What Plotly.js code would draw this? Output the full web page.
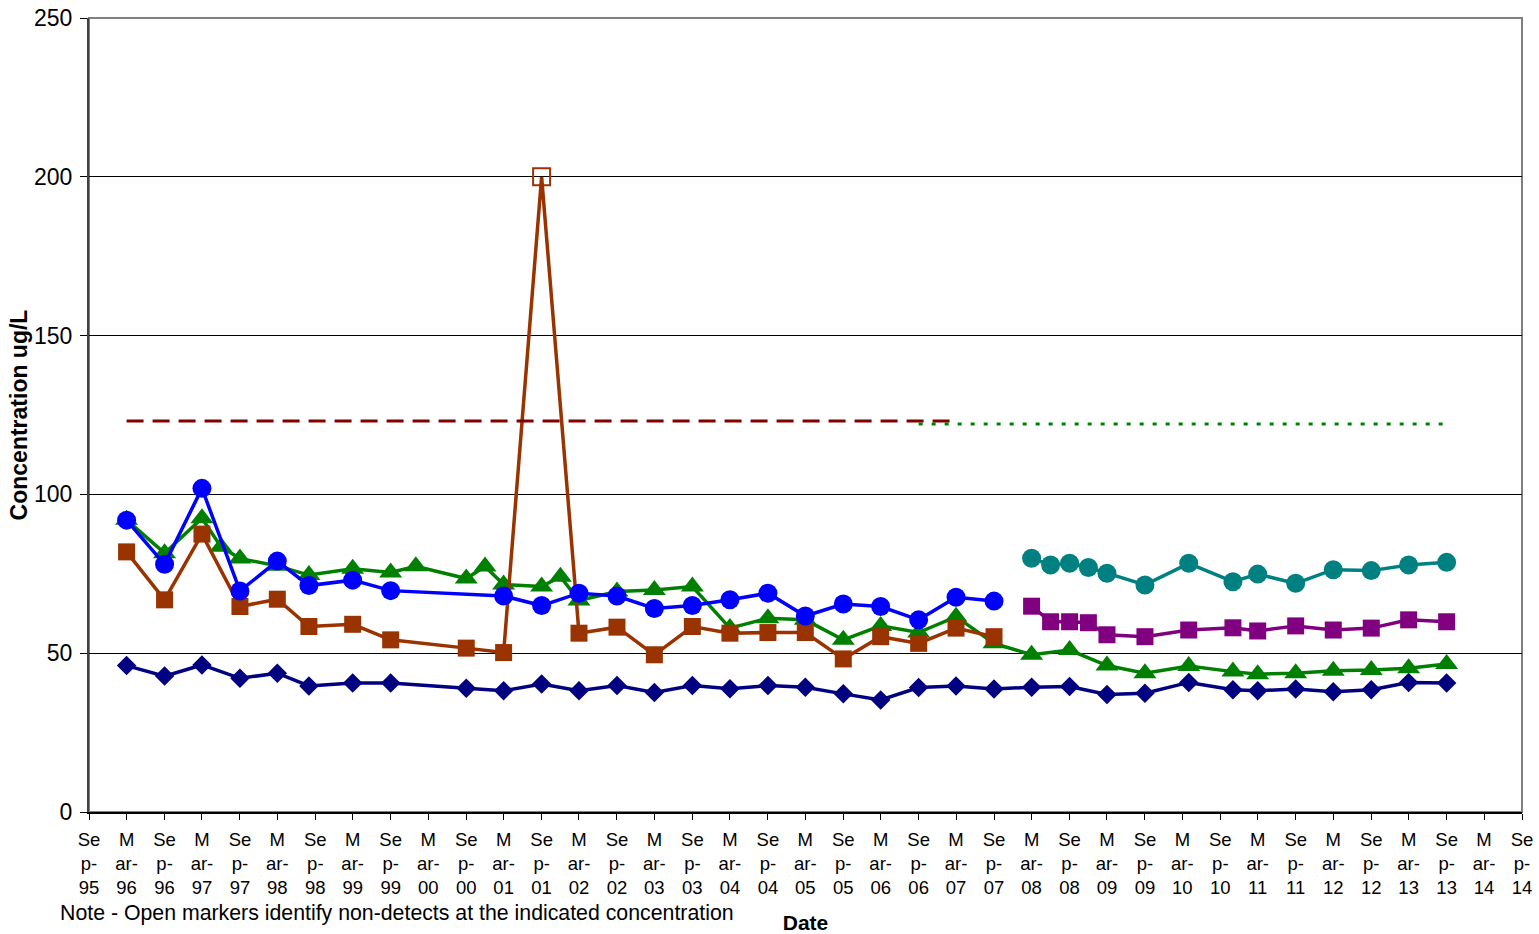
<!DOCTYPE html>
<html>
<head>
<meta charset="utf-8">
<script src="https://cdn.plot.ly/plotly-3.0.1.min.js"></script>
<style>
html,body{margin:0;padding:0;background:#fff;}
#chart{width:1539px;height:934px;}
</style>
</head>
<body>
<div id="chart"></div>
<script>
// ---------- data ----------
const tickDates = ['1995-09-01','1996-03-01','1996-09-01','1997-03-01','1997-09-01','1998-03-01','1998-09-01','1999-03-01','1999-09-01','2000-03-01','2000-09-01','2001-03-01','2001-09-01','2002-03-01','2002-09-01','2003-03-01','2003-09-01','2004-03-01','2004-09-01','2005-03-01','2005-09-01','2006-03-01','2006-09-01','2007-03-01','2007-09-01','2008-03-01','2008-09-01','2009-03-01','2009-09-01','2010-03-01','2010-09-01','2011-03-01','2011-09-01','2012-03-01','2012-09-01','2013-03-01','2013-09-01','2014-03-01','2014-09-01'];
const tickLabels = ['Se|p-|95','M|ar-|96','Se|p-|96','M|ar-|97','Se|p-|97','M|ar-|98','Se|p-|98','M|ar-|99','Se|p-|99','M|ar-|00','Se|p-|00','M|ar-|01','Se|p-|01','M|ar-|02','Se|p-|02','M|ar-|03','Se|p-|03','M|ar-|04','Se|p-|04','M|ar-|05','Se|p-|05','M|ar-|06','Se|p-|06','M|ar-|07','Se|p-|07','M|ar-|08','Se|p-|08','M|ar-|09','Se|p-|09','M|ar-|10','Se|p-|10','M|ar-|11','Se|p-|11','M|ar-|12','Se|p-|12','M|ar-|13','Se|p-|13','M|ar-|14','Se|p-|14'];

const navyDates = ['1996-03-01','1996-09-01','1997-03-01','1997-09-01','1998-03-01','1998-08-01','1999-03-01','1999-09-01','2000-09-01','2001-03-01','2001-09-01','2002-03-01','2002-09-01','2003-03-01','2003-09-01','2004-03-01','2004-09-01','2005-03-01','2005-09-01','2006-03-01','2006-09-01','2007-03-01','2007-09-01','2008-03-01','2008-09-01','2009-03-01','2009-09-01','2010-04-01','2010-11-01','2011-03-01','2011-09-01','2012-03-01','2012-09-01','2013-03-01','2013-09-01'];
const navyValues = [46.1,42.8,46.3,42.1,43.7,39.7,40.6,40.6,39.0,38.2,40.3,38.2,39.8,37.6,39.8,38.8,39.8,39.3,37.2,35.3,39.2,39.7,38.7,39.3,39.5,37.0,37.4,40.8,38.5,38.2,38.7,37.9,38.5,40.8,40.6];

const greenDates = ['1996-03-01','1996-09-01','1997-03-01','1997-06-01','1997-09-01','1998-03-01','1998-08-01','1999-03-01','1999-09-01','2000-01-01','2000-09-01','2000-12-01','2001-03-01','2001-09-01','2001-12-01','2002-03-01','2002-09-01','2003-03-01','2003-09-01','2004-03-01','2004-09-01','2005-03-01','2005-09-01','2006-03-01','2006-09-01','2007-03-01','2007-09-01','2008-03-01','2008-09-01','2009-03-01','2009-09-01','2010-04-01','2010-11-01','2011-03-01','2011-09-01','2012-03-01','2012-09-01','2013-03-01','2013-09-01'];
const greenValues = [92.0,81.5,92.5,83.5,79.8,77.5,74.6,76.6,75.4,77.4,73.5,77.3,71.6,71.0,74.1,66.6,69.4,69.9,71.0,57.9,61.0,60.5,54.2,58.6,56.5,61.5,53.1,49.5,51.0,46.1,43.7,46.0,44.2,43.4,43.7,44.5,44.7,45.3,46.6];

const brownDates = ['1996-03-01','1996-09-01','1997-03-01','1997-09-01','1998-03-01','1998-08-01','1999-03-01','1999-09-01','2000-09-01','2001-03-01','2001-09-01','2002-03-01','2002-09-01','2003-03-01','2003-09-01','2004-03-01','2004-09-01','2005-03-01','2005-09-01','2006-03-01','2006-09-01','2007-03-01','2007-09-01'];
const brownValues = [81.9,66.8,87.5,64.7,67.0,58.4,59.1,54.2,51.6,50.2,200,56.3,58.2,49.5,58.4,56.3,56.5,56.5,48.2,55.2,53.1,57.9,55.2];
const brownNonDetect = [0,0,0,0,0,0,0,0,0,0,1,0,0,0,0,0,0,0,0,0,0,0,0];

const blueDates = ['1996-03-01','1996-09-01','1997-03-01','1997-09-01','1998-03-01','1998-08-01','1999-03-01','1999-09-01','2001-03-01','2001-09-01','2002-03-01','2002-09-01','2003-03-01','2003-09-01','2004-03-01','2004-09-01','2005-03-01','2005-09-01','2006-03-01','2006-09-01','2007-03-01','2007-09-01'];
const blueValues = [91.9,78.0,101.9,69.6,79.0,71.3,73.0,69.7,68.0,65.0,68.9,68.0,64.1,65.0,66.8,68.9,61.7,65.5,64.7,60.5,67.6,66.4];

const lateDates = ['2008-03-01','2008-06-01','2008-09-01','2008-12-01','2009-03-01','2009-09-01','2010-04-01','2010-11-01','2011-03-01','2011-09-01','2012-03-01','2012-09-01','2013-03-01','2013-09-01'];
const tealValues = [79.9,77.8,78.3,77.0,75.2,71.5,78.3,72.5,74.9,72.0,76.3,76.0,77.8,78.6];
const purpleValues = [64.8,59.9,59.9,59.6,55.8,55.2,57.3,58.0,57.0,58.6,57.3,57.9,60.5,59.9];

const limit1Dates = ['1996-03-01','2007-03-01'];
const limit1Values = [123.1,123.1];
const limit2Dates = ['2006-09-01','2013-09-01'];
const limit2Values = [122.2,122.2];

// ---------- chart ----------
const FONT = '"Liberation Sans", Arial, sans-serif';
const LW = 3.5;

function series(x, y, color, symbol, size) {
  return {x: x, y: y, type: 'scatter', mode: 'lines+markers', showlegend: false,
    line: {color: color, width: LW},
    marker: {color: color, symbol: symbol, size: size, line: {width: 0}},
    hoverinfo: 'x+y'};
}

const brownTrace = series(brownDates, brownValues, '#993300', 'square', 17);
brownTrace.marker.symbol = brownNonDetect.map(f => f ? 'square-open' : 'square');
brownTrace.marker.line = {color: '#993300', width: brownNonDetect.map(f => f ? 2 : 0)};

const traces = [
  series(navyDates, navyValues, '#000080', 'diamond', 15),
  series(greenDates, greenValues, '#008000', 'triangle-up', 20),
  brownTrace,
  series(blueDates, blueValues, '#0000FF', 'circle', 19),
  series(lateDates, tealValues, '#008080', 'circle', 19),
  series(lateDates, purpleValues, '#800080', 'square', 17),
  {x: limit1Dates, y: limit1Values, type: 'scatter', mode: 'lines', showlegend: false,
   line: {color: '#800000', width: 3, dash: '17px,9px'}},
  {x: limit2Dates, y: limit2Values, type: 'scatter', mode: 'lines', showlegend: false,
   line: {color: '#008000', width: 3, dash: '4px,9px'}}
];

const layout = {
  width: 1539, height: 934,
  margin: {l: 89, r: 17, t: 18, b: 122},
  paper_bgcolor: '#ffffff', plot_bgcolor: '#ffffff',
  font: {family: FONT, color: '#000'},
  xaxis: {
    type: 'date',
    range: ['1995-09-01', '2014-09-01'],
    tickmode: 'array',
    tickvals: tickDates,
    ticktext: tickLabels.map(s => s.split('|').join('<br>')),
    tickangle: 0,
    tickfont: {family: FONT, size: 18.5, color: '#000'},
    ticklabelstandoff: 4,
    ticks: 'outside', ticklen: 6, tickwidth: 1, tickcolor: '#000',
    showgrid: false, zeroline: false,
    showline: true, linecolor: '#000', linewidth: 2,
    title: {text: '<b>Date</b>', font: {family: FONT, size: 21, color: '#000'}, standoff: 20}
  },
  yaxis: {
    range: [0, 250],
    tickmode: 'linear', tick0: 0, dtick: 50,
    tickfont: {family: FONT, size: 23, color: '#000'},
    ticklabelstandoff: 3,
    ticks: 'outside', ticklen: 7, tickwidth: 1, tickcolor: '#000',
    showgrid: true, gridcolor: '#000', gridwidth: 1,
    zeroline: false,
    showline: true, linecolor: '#404040', linewidth: 2,
    title: {text: '<b>Concentration ug/L</b>', font: {family: FONT, size: 23, color: '#000'}, standoff: 0}
  },
  shapes: [
    {type: 'rect', xref: 'paper', yref: 'paper', x0: 0, x1: 1, y0: 0, y1: 1,
     line: {color: '#808080', width: 2}, layer: 'below'}
  ],
  annotations: [
    {text: 'Note - Open markers identify non-detects at the indicated concentration',
     xref: 'paper', yref: 'paper', x: -0.0215, y: 0, xanchor: 'left', yanchor: 'middle',
     yshift: -101, showarrow: false,
     font: {family: FONT, size: 21.3, color: '#000'}}
  ]
};

Plotly.newPlot('chart', traces, layout, {displayModeBar: false, staticPlot: true});
</script>
</body>
</html>
